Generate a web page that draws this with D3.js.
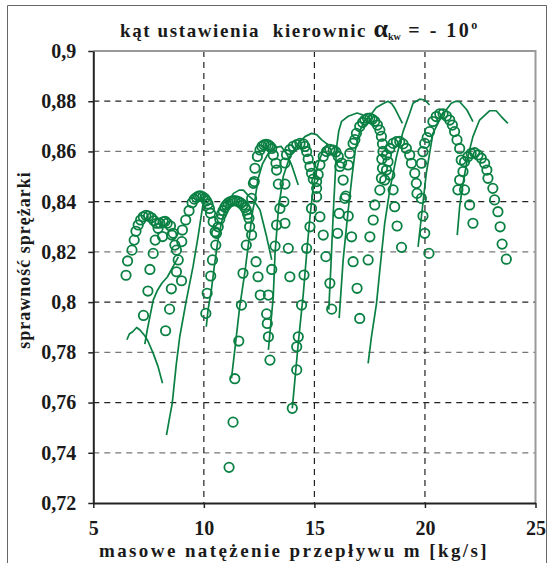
<!DOCTYPE html>
<html><head><meta charset="utf-8">
<script src="https://cdn.jsdelivr.net/npm/d3@7"></script>
<style>
body{margin:0;background:#fff}
svg{display:block}
text{font-family:"Liberation Serif","Times New Roman",serif;font-weight:bold;fill:#1a1a1a}
</style>
</head><body>
<svg id="chart" width="549" height="563"></svg>
<script>
// ---- tick values ----
const xTicks = [5, 10, 15, 20, 25];
const yTicks = [0.9, 0.88, 0.86, 0.84, 0.82, 0.8, 0.78, 0.76, 0.74, 0.72];

// ---- measured points (circles), one array per speed group: [mass flow, efficiency] ----
const measured1 = [[6.48,0.8107],[6.55,0.8164],[6.75,0.8207],[6.85,0.8247],[6.93,0.8282],[7.03,0.8307],[7.14,0.8327],[7.26,0.8340],[7.38,0.8346],[7.50,0.8343],[7.63,0.8336],[7.75,0.8324],[7.86,0.8314],[7.80,0.8247],[7.71,0.8194],[7.56,0.8130],[7.47,0.8044],[7.27,0.7947]];
const measured2 = [[7.93,0.8294],[8.01,0.8314],[8.13,0.8261],[8.16,0.8320],[8.25,0.8322],[8.34,0.8314],[8.49,0.8303],[8.55,0.8267],[8.61,0.8274],[8.69,0.8227],[8.76,0.8207],[8.84,0.8168],[8.76,0.8121],[8.99,0.8085],[8.53,0.8053],[8.45,0.7972],[8.27,0.7886]];
const measured3 = [[9.00,0.8241],[9.03,0.8287],[9.18,0.8327],[9.33,0.8364],[9.47,0.8396],[9.57,0.8410],[9.67,0.8417],[9.76,0.8422],[9.85,0.8423],[9.95,0.8419],[10.04,0.8413],[10.12,0.8403],[10.19,0.8391],[10.25,0.8373],[10.30,0.8354],[10.42,0.8320],[10.51,0.8280],[10.54,0.8227],[10.39,0.8168],[10.31,0.8104],[10.15,0.8035],[10.09,0.7955]];
const measured4 = [[10.57,0.8274],[10.65,0.8300],[10.72,0.8330],[10.80,0.8350],[10.87,0.8364],[10.95,0.8378],[11.02,0.8387],[11.10,0.8395],[11.20,0.8400],[11.30,0.8403],[11.40,0.8404],[11.50,0.8402],[11.59,0.8399],[11.68,0.8394],[11.77,0.8387],[11.86,0.8377],[11.92,0.8367],[11.98,0.8350],[12.04,0.8334],[12.07,0.8300],[12.16,0.8267],[11.92,0.8227],[11.77,0.8115],[11.70,0.7988],[11.58,0.7845],[11.40,0.7695],[11.32,0.7522],[11.14,0.7342]];
const measured5 = [[12.55,0.8028],[12.45,0.8101],[12.36,0.8161],[12.16,0.8413],[12.24,0.8473],[12.28,0.8480],[12.31,0.8533],[12.42,0.8580],[12.54,0.8606],[12.63,0.8620],[12.72,0.8626],[12.82,0.8628],[12.92,0.8626],[13.00,0.8620],[13.07,0.8612],[13.14,0.8586],[13.26,0.8553],[13.29,0.8526],[13.37,0.8470],[13.44,0.8373],[13.29,0.8307],[13.22,0.8223],[13.07,0.8130],[12.92,0.8028],[12.84,0.7953],[12.87,0.7915],[12.92,0.7862],[12.99,0.7769]];
const measured6 = [[13.89,0.8101],[13.82,0.8214],[13.67,0.8314],[13.62,0.8400],[13.67,0.8470],[13.67,0.8554],[13.74,0.8587],[13.89,0.8607],[14.04,0.8620],[14.20,0.8627],[14.35,0.8632],[14.50,0.8630],[14.57,0.8620],[14.65,0.8600],[14.72,0.8570],[14.80,0.8540],[14.87,0.8513],[14.95,0.8490],[15.10,0.8480],[15.10,0.8453],[14.87,0.8373],[14.80,0.8300],[14.65,0.8214],[14.53,0.8108],[14.42,0.7988],[14.27,0.7862],[14.20,0.7822],[14.20,0.7730],[14.00,0.7577]];
const measured7 = [[15.78,0.7972],[15.70,0.8075],[15.52,0.8181],[15.40,0.8267],[15.25,0.8340],[15.10,0.8420],[15.17,0.8508],[15.25,0.8547],[15.40,0.8580],[15.55,0.8600],[15.70,0.8608],[15.85,0.8605],[15.97,0.8598],[16.08,0.8580],[16.15,0.8540],[16.23,0.8554],[16.30,0.8486],[16.42,0.8422],[16.38,0.8413],[16.53,0.8343],[16.12,0.8353],[16.05,0.8274],[16.68,0.8260],[16.75,0.8161],[16.93,0.8055],[17.05,0.7935]];
const measured8 = [[16.53,0.8546],[16.60,0.8592],[16.75,0.8632],[16.83,0.8647],[16.90,0.8672],[17.05,0.8699],[17.18,0.8715],[17.28,0.8725],[17.40,0.8732],[17.51,0.8733],[17.62,0.8728],[17.73,0.8720],[17.85,0.8705],[17.96,0.8685],[18.03,0.8660],[18.08,0.8630],[18.10,0.8600],[18.05,0.8570],[18.08,0.8533],[18.03,0.8493],[17.96,0.8446],[17.73,0.8387],[17.66,0.8327],[17.51,0.8260],[17.43,0.8168]];
const measured9 = [[18.18,0.8486],[18.26,0.8526],[18.33,0.8559],[18.26,0.8586],[18.41,0.8612],[18.56,0.8632],[18.71,0.8639],[18.86,0.8640],[19.01,0.8630],[19.16,0.8612],[19.31,0.8586],[19.39,0.8553],[19.54,0.8513],[19.61,0.8473],[19.64,0.8433],[18.41,0.8506],[18.56,0.8447],[18.63,0.8380],[18.74,0.8303],[18.94,0.8218]];
const measured10 = [[20.18,0.8194],[19.99,0.8274],[19.91,0.8343],[19.84,0.8413],[19.84,0.8553],[19.91,0.8599],[19.99,0.8632],[20.10,0.8655],[20.21,0.8679],[20.36,0.8719],[20.51,0.8739],[20.67,0.8750],[20.82,0.8750],[20.97,0.8741],[21.12,0.8725],[21.24,0.8705],[21.34,0.8679],[21.45,0.8646],[21.57,0.8612],[21.64,0.8566],[21.72,0.8520],[21.57,0.8486],[21.49,0.8447],[21.79,0.8447]];
const measured11 = [[21.79,0.8559],[21.94,0.8579],[22.09,0.8592],[22.25,0.8595],[22.40,0.8586],[22.55,0.8573],[22.70,0.8553],[22.80,0.8526],[22.85,0.8493],[23.07,0.8453],[23.15,0.8407],[23.30,0.8360],[23.40,0.8300],[23.49,0.8231],[23.68,0.8171],[22.02,0.8387],[22.17,0.8314]];

// ---- calculated characteristics (lines) ----
const calc1 = [[6.52,0.7850],[6.63,0.7873],[6.78,0.7882],[6.96,0.7899],[7.11,0.7889],[7.33,0.7866],[7.48,0.7843],[7.71,0.7796],[7.93,0.7743],[8.13,0.7677]];
const calc2 = [[7.33,0.7833],[7.44,0.7889],[7.56,0.7942],[7.71,0.8008],[7.89,0.8045],[8.10,0.8075],[8.35,0.8100],[8.63,0.8145],[8.85,0.8180]];
const calc3 = [[8.31,0.7470],[8.45,0.7540],[8.57,0.7597],[8.75,0.7750],[8.91,0.7862],[9.21,0.8008],[9.51,0.8141],[9.75,0.8267],[9.91,0.8360],[10.00,0.8413]];
const calc4 = [[10.11,0.7902],[10.19,0.7969],[10.34,0.8048],[10.49,0.8154],[10.64,0.8247],[10.79,0.8314],[11.03,0.8390],[11.34,0.8433],[11.60,0.8446],[11.79,0.8446],[12.00,0.8425],[12.24,0.8407],[12.54,0.8367],[12.84,0.8260],[13.07,0.8168]];
const calc5 = [[11.25,0.7696],[11.40,0.7810],[11.62,0.7980],[11.85,0.8115],[12.04,0.8247],[12.20,0.8360],[12.31,0.8407],[12.45,0.8490],[12.65,0.8550],[12.90,0.8590],[13.20,0.8615],[13.50,0.8620],[13.75,0.8590],[13.97,0.8546],[14.27,0.8466]];
const calc6 = [[12.92,0.7810],[13.14,0.8022],[13.22,0.8194],[13.37,0.8367],[13.59,0.8500],[13.89,0.8580],[14.27,0.8632],[14.57,0.8659],[14.87,0.8672],[15.10,0.8667],[15.32,0.8647],[15.62,0.8626]];
const calc7 = [[14.00,0.7577],[14.27,0.7836],[14.50,0.8035],[14.65,0.8194],[14.80,0.8340],[14.95,0.8460],[15.17,0.8553],[15.40,0.8606],[15.62,0.8632]];
const calc8 = [[15.65,0.7970],[15.75,0.8150],[15.85,0.8350],[15.95,0.8520],[16.00,0.8614],[16.10,0.8680],[16.23,0.8720],[16.53,0.8740],[16.93,0.8753],[17.20,0.8745]];
const calc9 = [[16.12,0.7936],[16.30,0.8168],[16.53,0.8367],[16.70,0.8500],[16.85,0.8606],[17.05,0.8680],[17.28,0.8725],[17.50,0.8740],[17.80,0.8775],[18.10,0.8790],[18.33,0.8800],[18.50,0.8790],[18.65,0.8770],[18.98,0.8712]];
const calc10 = [[17.43,0.7756],[17.58,0.7862],[17.81,0.7995],[17.96,0.8128],[18.18,0.8314],[18.41,0.8447],[18.71,0.8579],[19.01,0.8679],[19.31,0.8752],[19.46,0.8792],[19.76,0.8808],[19.99,0.8805],[20.21,0.8785]];
const calc11 = [[19.69,0.8220],[19.84,0.8340],[20.06,0.8513],[20.36,0.8672],[20.74,0.8739],[21.00,0.8770],[21.19,0.8792],[21.40,0.8800],[21.57,0.8798],[21.90,0.8765],[22.17,0.8719]];
const calc12 = [[21.46,0.8267],[21.57,0.8380],[21.72,0.8473],[21.94,0.8579],[22.17,0.8659],[22.47,0.8725],[22.92,0.8762],[23.22,0.8762],[23.45,0.8739],[23.75,0.8712]];

const measuredSets = [measured1,measured2,measured3,measured4,measured5,measured6,measured7,measured8,measured9,measured10,measured11];
const calcSets = [calc1,calc2,calc3,calc4,calc5,calc6,calc7,calc8,calc9,calc10,calc11,calc12];

const GREEN = "#0a8043";
const svg = d3.select("#chart");
const L = 93.3, R = 535.5, T = 51, B = 503;
const x = d3.scaleLinear().domain([5, 25]).range([L, R]);
const y = d3.scaleLinear().domain([0.72, 0.9]).range([B, T]);

// outer frame
svg.append("path").attr("d", "M7.5,570 V5.5 H546.5 V570")
  .attr("fill", "none").attr("stroke", "#666").attr("stroke-width", 1);

// gridlines
svg.append("g").selectAll("line").data(yTicks.slice(1, -1)).join("line")
  .attr("x1", L).attr("x2", R).attr("y1", d => y(d)).attr("y2", d => y(d))
  .attr("stroke", (d, i) => i % 2 ? "#777" : "#222").attr("stroke-width", 1.2)
  .attr("stroke-dasharray", "6,5");
svg.append("g").selectAll("line").data(xTicks.slice(1, -1)).join("line")
  .attr("x1", d => x(d)).attr("x2", d => x(d)).attr("y1", T).attr("y2", B)
  .attr("stroke", "#222").attr("stroke-width", 1.2)
  .attr("stroke-dasharray", "6,5");

// top & right frame (gray)
svg.append("path").attr("d", `M${L},${T} H${R} V${B}`)
  .attr("fill", "none").attr("stroke", "#999").attr("stroke-width", 2);

// calculated lines
const lineGen = d3.line().x(d => x(d[0])).y(d => y(d[1]));
svg.append("g").selectAll("path").data(calcSets).join("path")
  .attr("d", lineGen).attr("fill", "none").attr("stroke", GREEN)
  .attr("stroke-width", 1.7).attr("stroke-linejoin", "round");

// measured circles
const cg = svg.append("g");
measuredSets.forEach(set => {
  cg.append("g").selectAll("circle").data(set).join("circle")
    .attr("cx", d => x(d[0])).attr("cy", d => y(d[1])).attr("r", 4.7)
    .attr("fill", "none").attr("stroke", GREEN).attr("stroke-width", 1.8);
});

// axes
const fmt = d => String(d).replace(".", ",");
const yAxis = svg.append("g").attr("transform", `translate(${L},0)`)
  .call(d3.axisLeft(y).tickValues(yTicks).tickFormat(fmt).tickSize(5).tickSizeOuter(0).tickPadding(12));
const xAxis = svg.append("g").attr("transform", `translate(0,${B})`)
  .call(d3.axisBottom(x).tickValues(xTicks).tickFormat(fmt).tickSize(5).tickSizeOuter(0).tickPadding(13));
[yAxis, xAxis].forEach(a => {
  a.select(".domain").attr("stroke", "#222").attr("stroke-width", 2);
  a.selectAll(".tick line").attr("stroke", "#222").attr("stroke-width", 1.5);
  a.selectAll("text").attr("font-size", 20).attr("fill", "#1a1a1a")
    .style("font-family", '"Liberation Serif",serif').style("font-weight", "bold");
});

// title
const title = svg.append("text").attr("x", 120).attr("y", 37)
  .attr("font-size", 19).style("letter-spacing", "1.6px").attr("xml:space", "preserve");
title.append("tspan").text("kąt ustawienia  kierownic ");
title.append("tspan").attr("font-size", 26).style("letter-spacing", "0px").text("α");
title.append("tspan").attr("font-size", 10).attr("dy", 3).style("letter-spacing", "0px").text("kw");
title.append("tspan").attr("dy", -3).attr("font-size", 20).style("letter-spacing", "2.5px").text(" = - 10");
title.append("tspan").attr("font-size", 12).attr("dy", -8).style("letter-spacing", "0px").text("o");

// axis titles
svg.append("text").attr("transform", "translate(30,260) rotate(-90)")
  .attr("text-anchor", "middle").attr("font-size", 18).style("letter-spacing", "1px")
  .text("sprawność sprężarki");
svg.append("text").attr("x", 294).attr("y", 557).attr("text-anchor", "middle")
  .attr("font-size", 19).style("letter-spacing", "2.4px")
  .text("masowe natężenie przepływu m [kg/s]");
</script>
</body></html>
